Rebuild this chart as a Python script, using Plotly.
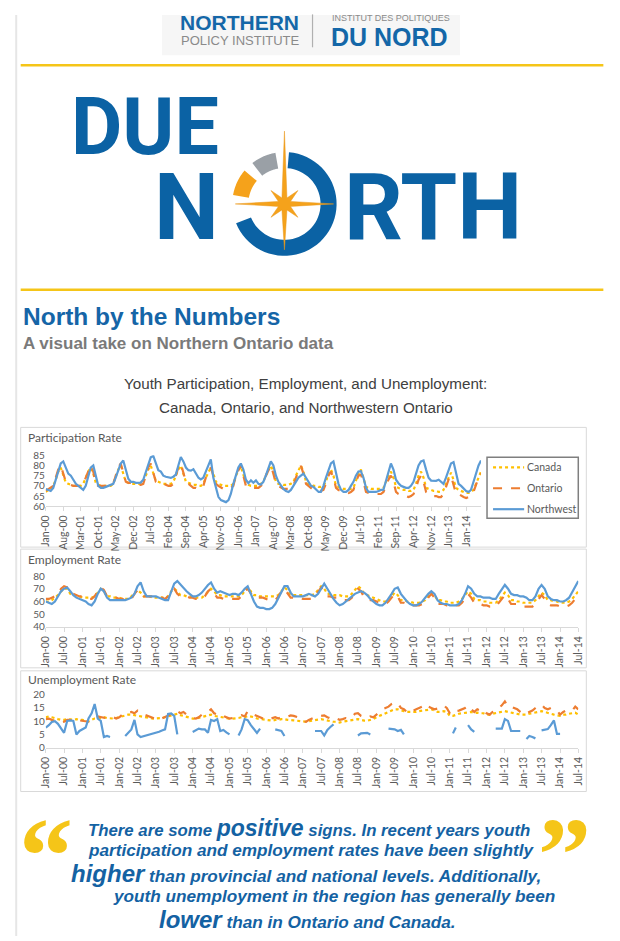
import math
import plotly.graph_objects as go
import pandas as pd

# Figure size; coordinates below are given in window pixels of the target
# picture and mapped onto the figure (the page adds a margin around it).
OFF = 8
W, H = 620 - OFF, 941 - OFF
def X(px): return ((px - 8.5) / 0.9776 - OFF) / W
def Y(py): return 1 - ((py - 5.7) / 0.9895 - OFF) / H

months = pd.date_range("2000-01-01", "2014-07-01", freq="MS")

# ---------------- Participation rate (monthly, Jan-00 .. Jul-14) ----------------
part_canada = [
    67,68,68,70,73,77,79,75,71.5,71,70.5,70,
    70,70,70,71,74,77,79,76,71.5,70.5,70,70,
    70,70,70,71,75,78,80,76,72,71.5,71,71,
    71,71,71,72,75,78,80,76,72.5,72,71.5,71,
    71,71,71,72,75,78,80,76,72,71.5,71,70.5,
    70.5,70,70,71,74,77,79,76,72,71,70.5,70,
    70,70,70,71,75,78,79.5,76,71.5,70.5,70,70,
    70,70,71,72,75,78,80,77,72,71,71,70.5,
    70.5,70.5,71,72,75,78,80,77,72,71,71,70,
    70,69.5,69.5,70,72,76,78,75,70,69.5,69,68.5,
    68.5,68.5,68.5,69,72,76,78,74,69.5,69,68.5,68.5,
    68.5,68.5,68.5,69,72,75,77,74,69.5,69,68.5,68,
    68,67.5,67.5,68,71,75,77,74,69,68.5,68,67.5,
    67.5,67,67,68,71,74,76.5,73,69,68,67.5,67,
    66.5,66.5,67,68,71,74,77]
part_ontario = [
    67.5,68.5,69,70,74,78,80,76,72,71,70.5,70,
    70,70,70,71,74,77,80,77,71,70,70,70,
    70,70,70,71,75,79,81,77,72,71.5,71.5,71,
    71,70.5,70.5,71,75,79,81,77,72,71.5,71,71,
    70.5,70,70,71,75,79,81,77,72,71,70,69,
    69,68.5,68.5,70,74,77,79,75,71,70,69,68.5,
    68.5,68.5,69,70,75,78,80,75,70,69.5,69,69,
    69,69,70,71,75,78,80,76,71,70,69,68.5,
    68.5,68.5,69,70,74,77,79.8,76,71,70,69,68,
    68,67.5,67.5,68,71,75,77,74,69,68,67.5,67,
    67,66.5,67,68,72,75,75.5,72,67,66.5,66,66,
    66,66,66,67,70,73,75,72,67,66,65.5,65,
    65,64.5,65,66,69,73,75,72,67,66,65,65,
    65,64.5,64.5,66,70,73,75,71,66,66,65,64.5,
    64,64.5,65,67,71,74,76]
part_northwest = [
    68.5,68,67.5,69,73,78,81,82,79,76,75,73,
    71,70,69,68,70,75,79,80,74,70,69,69,
    69.5,70,70.5,71,74,78,81,82.5,78,73.5,72,72,
    71.5,71.5,71.6,73,77,81,84,84.7,81,77.7,77,75,
    74.5,74,73.9,74.5,75.5,80,84.2,82,79,77.7,77.5,78.2,
    76,74,73.2,74,77,80,83,74,69,64.6,63,62.5,
    62,63,66,71,75,79,81,78,73,71.3,72.7,71.5,
    72.7,71,70.6,72,75,79,82,80,75,72,70,68.5,
    67.5,67,68,70,72,74,75,76,74,72,70,69.5,
    68,67,67,70,74,78,81,82,76,71,68,67,
    67,68,70,72,75,77,77.2,74,69,67,67,67,
    67,67.5,68,68.1,72,77,81,78,73,71.3,70,69.5,
    69,69,70,72,76,80,82,82.5,78,74,72.6,72.5,
    72.5,73,72,71,74,78,81,81.7,76,71,70,68.5,
    67.5,67,68,72,76,80,82.5]

# ---------------- Employment rate ----------------
emp_canada = [
    60,60,61,63,65,68,70,70,66,65,65,64,
    63,63,63,63,64,67,70,68,64,64,63,63,
    63,62,62,62,64,67,69,67,64,64,64,63,
    63,63,63,63,64,68,70,68,65,65,64,64,
    64,63,63,63,65,68,70,68,65,65,64,64,
    64,64,64,64,65,68,71,68,65,65,64,64,
    64,64,64,64,65,68,71,69,65,65,65,65,
    65,65,65,65,66,69,72,70,66,66,65,65,
    65,64,64,64,66,69,72,70,66,65,64,63,
    62,61,60,60,61,64,67,65,61,61,60,60,
    59,59,59,60,61,64,67,65,61,61,60,60,
    59,59,59,60,62,65,68,66,62,61,61,60,
    60,59,59,59,61,64,67,65,61,61,60,60,
    59,59,59,59,61,64,67,65,61,61,60,60,
    59,59,59,60,62,65,68]
emp_ontario = [
    62,62,63,64,66,70,72,71,67,66,65,64,
    64,63,62,62,64,68,71,69,64,64,63,63,
    62,62,61,61,62,66,69,66,64,64,64,64,
    64,63,63,62,64,68,70,66,64,64,64,63,
    63,62,62,62,64,68,70,66,63,63,62,62,
    62,62,62,62,64,68,70,66,63,63,63,63,
    62,61,61,61,64,68,70,66,63,63,63,63,
    62,62,62,62,64,68,71,68,64,64,63,63,
    62,61,61,61,63,67,70,68,63,62,61,61,
    60,59,58,58,60,63,66,64,59,59,58,58,
    57,57,57,58,60,63,66,63,58,58,58,57,
    57,57,57,57,59,63,66,63,59,58,58,57,
    57,56,56,56,59,62,65,62,58,58,58,57,
    56,56,56,56,58,62,65,62,58,57,57,57,
    56,56,56,57,59,62,65]
emp_northwest = [
    60,59,58,60,64,68,70,71,68,65,63,62,
    61,60,58,57,60,66,70,68,63,61,61,61,
    61,61,61,62,63,66,72,75,68,64,64,64,
    64,63,62,61,61,68,74,76,73,71,68,66,
    64,64,65,67,70,73,75,70,67,68,67,66,
    65,66,66,65,67,70,72,66,60,56,55,55,
    54,54,55,58,63,68,72,72,67,64,64,64,
    64,65,66,65,64,66,70,74,70,66,62,59,
    57,58,60,62,64,66,67,68,67,65,62,60,
    58,57,57,59,62,66,70,71,66,63,60,58,
    57,57,58,60,63,66,68,66,61,59,58,58,
    57,57,57,58,61,66,72,70,66,64,64,63,
    63,63,62,62,66,70,73,70,66,65,65,64,
    64,63,61,61,64,70,73,70,64,62,61,61,
    60,60,61,63,67,72,76]

# ---------------- Unemployment rate ----------------
unemp_canada = [
    11.5,11.8,11.5,11,10.8,10.5,10.5,10.8,10.5,10.5,10.8,10.5,
    10.5,10,10,10.5,11,11,11.2,11.5,11.2,11,11,11.2,
    11.5,12,12.2,12.5,12.5,12.3,12,11.8,11.5,11.5,11.3,11,
    11,11,11.2,11.5,11.8,12,12.5,12.8,12.3,12,11.5,11.3,
    11,11,11.3,11.5,12,12.3,12.5,12,11.8,11.5,11.3,11,
    11,11,11,11.2,11.5,11.5,12,11.8,11.5,11,10.8,10.5,
    10.3,10.2,10.2,10.5,10.5,10.8,10.8,10.5,10.5,10.3,10.2,10,
    9.8,9.8,10,10.2,10.3,10.5,10.8,10.5,10.2,10,9.8,9.8,
    9.5,9.8,10,10,10.2,10.5,10.8,10.5,10.2,10.2,10.5,10.8,
    11.5,12,12.5,13,13.5,14,14.5,14.5,14,13.8,13.5,13.5,
    13.5,13.5,13.8,14,14,14.2,14.5,14,13.5,13.5,13.8,13.5,
    12,12,12.5,12.8,13,13.2,13.5,13.5,13,13.2,13,13,
    12.5,12.5,12.8,13,13.2,13.5,13.8,13.5,13.2,13,12.8,12.5,
    12.5,12.5,12.8,13,13.2,13.5,13.8,13.5,13,12.8,12.5,12.3,
    12,12.5,12.5,12.8,13,13.2,12.5]
unemp_ontario = [
    10.8,11,10.5,10.2,10,9.5,9.8,10.5,10.5,10.2,10,10.3,
    10.2,10,9.8,10.5,11.5,11.8,11.5,11.3,11.2,11,11.5,11,
    11.5,12.5,13,13.2,13.5,13,14,13,12.5,12,11.5,11,
    10.8,10.5,11,11.5,12,12.5,13.2,13.8,13,13.5,12.5,11.8,
    11.2,11,11.5,12.5,13,13.5,14.5,13,12.5,12.8,12,11.5,
    11,11.2,11.5,12,12.3,11.8,13.8,13,12.5,12,11.5,11,
    10.5,10.8,11,11.5,11,11.5,11.3,11.8,12.2,12,11.5,11.2,
    10,9.8,10.5,11,11.5,12,12,12.2,11.5,11,10.5,11,
    10.5,10.8,11.2,11,11.5,12.8,13,12,11.5,11.2,11.8,11.5,
    12.5,13.5,14.5,15,15.5,16.5,17,16.8,15,14.5,13.5,14.5,
    14,14.5,15,15.5,16.5,15.5,15,14.5,14.8,15.5,16,15,
    13,12.5,13.8,14,14.5,15,16,14.5,13.5,14.5,14,14.5,
    13,12.5,13.5,14,15,16,17.5,15.5,15.5,15,14.5,13.5,
    12.5,13,13.5,14,15,16,16.2,15,14.5,15,14.5,14,
    12.5,13.5,14,14,14,15.5,14.5]
N_ = None
unemp_northwest = [
    7.6,8.5,9.7,10,9,7.5,5.6,10.1,10.3,10.1,5,6.3,
    7,7.6,11,13,16.5,11,10.1,4,4.4,4,N_,N_,
    N_,N_,4.4,5.5,6.9,10.5,5,4,4.3,4.6,5,5.3,
    5.6,6,6.5,6.9,12.7,12.9,12,5,N_,N_,N_,N_,
    5.9,6.5,7.2,6.9,6.9,5.6,10.5,10.1,10.8,6.3,6.7,5.8,
    5,N_,N_,4.6,6.9,10.8,10.4,8.5,6.9,5.6,7.2,N_,
    N_,N_,N_,6.9,6.6,6.3,4.4,N_,N_,N_,N_,N_,
    N_,N_,N_,N_,6.3,6.3,6.3,4.6,6.7,7.8,8.8,N_,
    N_,N_,N_,N_,N_,N_,4.6,5.4,5.5,5.6,5,N_,
    N_,N_,N_,N_,7.2,7,6.9,6.3,6.7,5,N_,N_,
    N_,N_,N_,N_,N_,N_,N_,N_,N_,N_,N_,N_,
    N_,5.4,7.6,N_,N_,N_,8.5,6.9,6,N_,N_,N_,
    N_,N_,N_,7.2,7.2,7.2,10.8,10.1,6.3,6.3,6.3,6.3,
    N_,3.3,4.4,4,3.5,N_,6.5,6.8,7,8.5,10.3,5.2,
    5.2,N_,N_,N_,N_,N_,N_]

series_names = ["Canada", "Ontario", "Northwest"]
panel_titles = ["Participation Rate", "Employment Rate", "Unemployment Rate"]
panel_data = [
    [part_canada, part_ontario, part_northwest],
    [emp_canada, emp_ontario, emp_northwest],
    [unemp_canada, unemp_ontario, unemp_northwest],
]
y_ranges = [[60, 85], [40, 80], [0, 20]]
y_dticks = [5, 10, 5]
x_dticks = ["M7", "M6", "M6"]

# styles
COLORS = ["#FFC000", "#ED7D31", "#5B9BD5"]
DASHES = ["dot", "dash", "solid"]
BLUE = "#0B62A4"
GOLD = "#F5C518"
ORANGE = "#F5A21B"
GREY_TXT = "#595959"
CHART_FONT = "Lato, Open Sans, sans-serif"

# panel geometry in window pixels: (x0, x1, ytop, ybottom)
plot_px = [(47, 481, 455, 506), (47, 578, 576, 627), (47, 578, 695, 748)]
box_px = [(22, 427, 586, 547), (22, 549, 586, 668), (22, 671, 586, 792)]
title_px = [(27, 437), (27, 559), (27, 680)]

fig = go.Figure()
for p, data in enumerate(panel_data):
    xa = "x" if p == 0 else f"x{p+1}"
    ya = "y" if p == 0 else f"y{p+1}"
    for s, vals in enumerate(data):
        fig.add_trace(go.Scatter(
            x=months, y=vals, xaxis=xa, yaxis=ya, mode="lines",
            name=series_names[s], showlegend=False,
            line=dict(color=COLORS[s], dash=DASHES[s], width=2.2),
            connectgaps=False,
        ))

layout = {}
for p in range(3):
    x0, x1, yt, yb = plot_px[p]
    sfx = "" if p == 0 else str(p + 1)
    layout["xaxis" + sfx] = dict(
        domain=[X(x0), X(x1)], anchor="y" + sfx, type="date",
        range=[months[0], months[-1]], tick0="2000-01-01", dtick=x_dticks[p],
        tickformat="%b-%y", tickangle=-90, showgrid=False, zeroline=False,
        showline=True, linecolor="#D9D9D9", linewidth=1,
        ticks="outside", ticklen=4, tickcolor="#D9D9D9",
        tickfont=dict(family=CHART_FONT, size=10.5, color=GREY_TXT),
    )
    layout["yaxis" + sfx] = dict(
        domain=[Y(yb), Y(yt)], anchor="x" + sfx, range=y_ranges[p],
        tick0=y_ranges[p][0], dtick=y_dticks[p], showgrid=False,
        zeroline=False, showline=False, ticks="",
        tickfont=dict(family=CHART_FONT, size=10, color=GREY_TXT),
    )
fig.update_layout(**layout)

shapes = []
annotations = []

# page border on the left
shapes.append(dict(type="line", xref="paper", yref="paper", x0=0.002, x1=0.002, y0=0, y1=1,
                   line=dict(color="#E6E6E6", width=2)))

# chart panel boxes
for (bx0, by0, bx1, by1) in box_px:
    shapes.append(dict(type="rect", xref="paper", yref="paper", x0=X(bx0), x1=X(bx1),
                       y0=Y(by1), y1=Y(by0), line=dict(color="#D9D9D9", width=1), layer="below"))
for p, (tx, ty) in enumerate(title_px):
    annotations.append(dict(text=panel_titles[p], x=X(tx), y=Y(ty),
                            xanchor="left", yanchor="middle",
                            font=dict(family=CHART_FONT, size=12, color=GREY_TXT)))

# legend (drawn as a boxed key)
leg_box = (487, 457, 578, 518)
shapes.append(dict(type="rect", xref="paper", yref="paper", x0=X(leg_box[0]), x1=X(leg_box[2]),
                   y0=Y(leg_box[3]), y1=Y(leg_box[1]), line=dict(color="#7F7F7F", width=1.5),
                   fillcolor="white"))
for s, ly in enumerate((467, 488, 509)):
    shapes.append(dict(type="line", xref="paper", yref="paper", x0=X(493), x1=X(524),
                       y0=Y(ly), y1=Y(ly), line=dict(color=COLORS[s], dash=DASHES[s], width=2.2)))
    annotations.append(dict(text=series_names[s], x=X(525), y=Y(ly), xanchor="left", yanchor="middle",
                            font=dict(family=CHART_FONT, size=10.5, color=GREY_TXT)))

# top logo block
shapes.append(dict(type="rect", xref="paper", yref="paper", x0=X(163), x1=X(460), y0=Y(54), y1=1,
                   fillcolor="#F6F6F6", line=dict(width=0), layer="below"))
shapes.append(dict(type="line", xref="paper", yref="paper", x0=X(313), x1=X(313), y0=Y(46), y1=Y(13),
                   line=dict(color="#B0B0B0", width=1.2)))
annotations += [
    dict(text="<b>NORTHERN</b>", x=X(179), y=Y(21), xanchor="left", yanchor="middle",
         font=dict(family="Liberation Sans, Arial", size=21, color="#1467A8")),
    dict(text="POLICY INSTITUTE", x=X(180), y=Y(39), xanchor="left", yanchor="middle",
         font=dict(family="Liberation Sans, Arial", size=13, color="#8A8A8A")),
    dict(text="INSTITUT DES POLITIQUES", x=X(330), y=Y(17), xanchor="left", yanchor="middle",
         font=dict(family="Liberation Sans, Arial", size=9, color="#8A8A8A")),
    dict(text="<b>DU NORD</b>", x=X(329), y=Y(36), xanchor="left", yanchor="middle",
         font=dict(family="Liberation Sans, Arial", size=25, color="#1467A8")),
]

# gold rules
for gy in (64, 289):
    shapes.append(dict(type="line", xref="paper", yref="paper", x0=X(22), x1=X(603), y0=Y(gy), y1=Y(gy),
                       line=dict(color=GOLD, width=2.5)))

# DUE NORTH logo
LOGO_FONT = "Roboto, Liberation Sans, Arial"
annotations += [
    dict(text="<b>DUE</b>", x=X(70), y=Y(126), xanchor="left", yanchor="middle",
         font=dict(family=LOGO_FONT, size=79, color=BLUE)),
    dict(text="<b>N</b>", x=X(153), y=Y(207), xanchor="left", yanchor="middle",
         font=dict(family=LOGO_FONT, size=92, color=BLUE)),
    dict(text="<b>RTH</b>", x=X(342), y=Y(207), xanchor="left", yanchor="middle",
         font=dict(family=LOGO_FONT, size=92, color=BLUE)),
]
cx, cy = 285, 203
def arc(a0, a1, r_out=52, r_in=36, n=48):
    outer = [(cx + r_out * math.cos(math.radians(a0 + (a1 - a0) * i / n)),
              cy - r_out * math.sin(math.radians(a0 + (a1 - a0) * i / n))) for i in range(n + 1)]
    inner = [(cx + r_in * math.cos(math.radians(a1 - (a1 - a0) * i / n)),
              cy - r_in * math.sin(math.radians(a1 - (a1 - a0) * i / n))) for i in range(n + 1)]
    pts = outer + inner
    return "M " + " L ".join(f"{X(px):.5f},{Y(py):.5f}" for px, py in pts) + " Z"
for a0, a1, col in [(-158, 85, BLUE), (100, 128, "#9AA0A6"), (140, 170, ORANGE)]:
    shapes.append(dict(type="path", xref="paper", yref="paper", path=arc(a0, a1),
                       fillcolor=col, line=dict(width=0)))
tips = {0: 73, 45: 19, 90: 49, 135: 19, 180: 46, 225: 19, 270: 49, 315: 19}
star = []
for k in range(8):
    ang = k * 45
    for a, r in ((ang, tips[ang]), (ang + 22.5, 6.5)):
        star.append((cx + r * math.sin(math.radians(a)), cy - r * math.cos(math.radians(a))))
shapes.append(dict(type="path", xref="paper", yref="paper",
                   path="M " + " L ".join(f"{X(px):.5f},{Y(py):.5f}" for px, py in star) + " Z",
                   fillcolor=ORANGE, line=dict(color="#E8961A", width=0.5)))

# headings
annotations += [
    dict(text="<b>North by the Numbers</b>", x=X(22), y=Y(316), xanchor="left", yanchor="middle",
         font=dict(family="Liberation Sans, Arial", size=24.5, color="#1565A7")),
    dict(text="<b>A visual take on Northern Ontario data</b>", x=X(22), y=Y(343), xanchor="left",
         yanchor="middle", font=dict(family="Liberation Sans, Arial", size=17, color="#7A7A7A")),
    dict(text="Youth Participation, Employment, and Unemployment:", x=X(306), y=Y(383),
         xanchor="center", yanchor="middle",
         font=dict(family="Liberation Sans, Arial", size=15.2, color="#404040")),
    dict(text="Canada, Ontario, and Northwestern Ontario", x=X(306), y=Y(407),
         xanchor="center", yanchor="middle",
         font=dict(family="Liberation Sans, Arial", size=15.2, color="#404040")),
]

# quote
QF = "Liberation Sans, Arial"
QC = "#1462A3"
def big(w, size=24):
    return f"<span style='font-size:{size}px'>{w}</span>"
quote_lines = [
    (87, 829, f"There are some {big('positive', 23)} signs. In recent years youth", 16.8),
    (87, 851, "participation and employment rates have been slightly", 17.2),
    (70, 874, f"{big('higher')} than provincial and national levels. Additionally,", 17.2),
    (112, 897, "youth unemployment in the region has generally been", 17.2),
    (158, 920, f"{big('lower')} than in Ontario and Canada.", 17.2),
]
for qx, qy, txt, fs in quote_lines:
    annotations.append(dict(text=f"<b><i>{txt}</i></b>", x=X(qx), y=Y(qy), xanchor="left",
                            yanchor="middle", font=dict(family=QF, size=fs, color=QC)))
annotations += [
    dict(text="<b>\u201c</b>", x=X(47), y=Y(856), xanchor="center", yanchor="middle",
         font=dict(family="Liberation Serif, serif", size=108, color=GOLD)),
    dict(text="<b>\u201d</b>", x=X(564), y=Y(856), xanchor="center", yanchor="middle",
         font=dict(family="Liberation Serif, serif", size=106, color=GOLD)),
]

for a in annotations:
    a.setdefault("xref", "paper")
    a.setdefault("yref", "paper")
    a.setdefault("showarrow", False)

fig.update_layout(
    width=W, height=H, margin=dict(l=0, r=0, t=0, b=0),
    paper_bgcolor="white", plot_bgcolor="white",
    shapes=shapes, annotations=annotations,
    showlegend=False,
)
fig.write_html("out.html")
